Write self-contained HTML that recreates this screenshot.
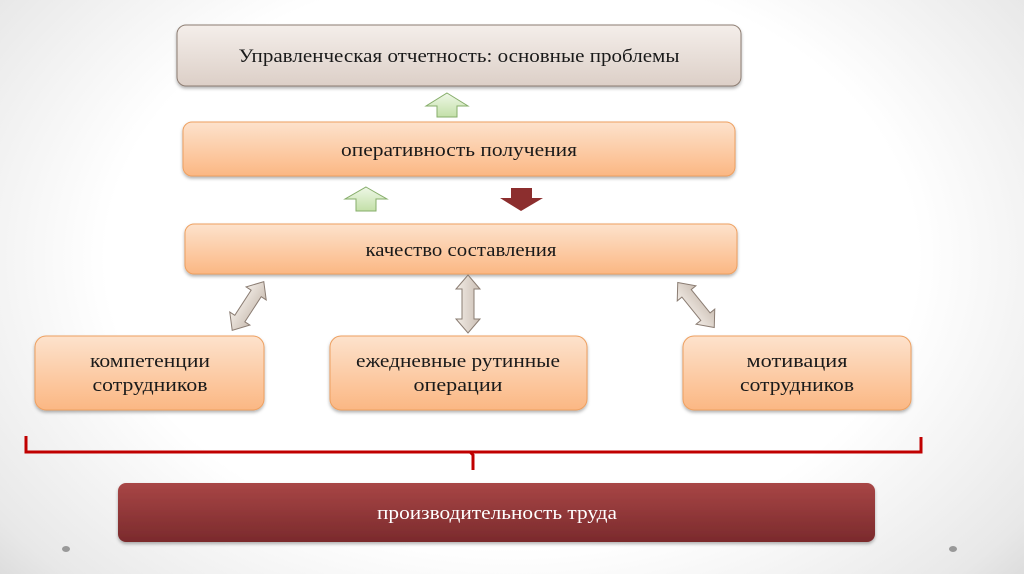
<!DOCTYPE html>
<html><head><meta charset="utf-8"><style>
html,body{margin:0;padding:0;}
body{width:1024px;height:574px;overflow:hidden;background:radial-gradient(ellipse 72% 92% at 50% 45%,#ffffff 55%,#e8e8e8 85%,#cfcfcf 100%);}
svg{position:absolute;left:0;top:0;}
text{font-family:"Liberation Serif",serif;font-size:19px;fill:#1a1a1a;text-anchor:middle;}
</style></head><body>
<svg width="1024" height="574" viewBox="0 0 1024 574">
<defs>
<linearGradient id="g1" x1="0" y1="0" x2="0" y2="1"><stop offset="0" stop-color="#f4eeea"/><stop offset="1" stop-color="#dccfc7"/></linearGradient>
<linearGradient id="or" x1="0" y1="0" x2="0" y2="1"><stop offset="0" stop-color="#fde2cc"/><stop offset="1" stop-color="#fbb783"/></linearGradient>
<linearGradient id="rd" x1="0" y1="0" x2="0" y2="1"><stop offset="0" stop-color="#a84646"/><stop offset="1" stop-color="#7a2a2c"/></linearGradient>
<linearGradient id="gr" x1="0" y1="0" x2="0" y2="1"><stop offset="0" stop-color="#eef7e6"/><stop offset="1" stop-color="#c3e0a8"/></linearGradient>
<linearGradient id="da" x1="0" y1="0" x2="1" y2="0"><stop offset="0" stop-color="#f2ece6"/><stop offset="1" stop-color="#cbbfb4"/></linearGradient>
<filter id="sh" x="-5%" y="-20%" width="110%" height="150%"><feDropShadow dx="0" dy="2" stdDeviation="1.5" flood-color="#000" flood-opacity="0.3"/></filter>
<path id="dbl" d="M0,-29 L12,-15 L6,-15 L6,15 L12,15 L0,29 L-12,15 L-6,15 L-6,-15 L-12,-15 Z"/>
</defs>
<g filter="url(#sh)">
<rect x="177" y="25" width="564" height="61" rx="9" fill="url(#g1)" stroke="#8d7d72" stroke-width="1"/>
<rect x="183" y="122" width="552" height="54" rx="9" fill="url(#or)" stroke="#eea060" stroke-width="1"/>
<rect x="185" y="224" width="552" height="50" rx="9" fill="url(#or)" stroke="#eea060" stroke-width="1"/>
<rect x="35" y="336" width="229" height="74" rx="11" fill="url(#or)" stroke="#eea060" stroke-width="1"/>
<rect x="330" y="336" width="257" height="74" rx="11" fill="url(#or)" stroke="#eea060" stroke-width="1"/>
<rect x="683" y="336" width="228" height="74" rx="11" fill="url(#or)" stroke="#eea060" stroke-width="1"/>
<rect x="118" y="483" width="757" height="59" rx="8" fill="url(#rd)"/>
</g>
<path d="M447,93 L468,106 L457,106 L457,117 L437,117 L437,106 L426,106 Z" fill="url(#gr)" stroke="#86ad6a" stroke-width="1"/>
<path d="M366,187 L387,199 L376,199 L376,211 L356,211 L356,199 L345,199 Z" fill="url(#gr)" stroke="#86ad6a" stroke-width="1"/>
<path d="M511,188 L532,188 L532,198 L543,198 L521,211 L500,198 L511,198 Z" fill="#8c2e2e"/>
<use href="#dbl" transform="translate(248,306) rotate(33)" fill="url(#da)" stroke="#8a7c72" stroke-width="1"/>
<use href="#dbl" transform="translate(468,304)" fill="url(#da)" stroke="#8a7c72" stroke-width="1"/>
<use href="#dbl" transform="translate(696,305) rotate(-39)" fill="url(#da)" stroke="#8a7c72" stroke-width="1"/>
<path d="M26,436 L26,452 L921,452 L921,437" fill="none" stroke="#c00000" stroke-width="3"/>
<path d="M470,452 L473,455 L473,470" fill="none" stroke="#c00000" stroke-width="3"/>
<ellipse cx="66" cy="549" rx="4" ry="3" fill="#999"/>
<ellipse cx="953" cy="549" rx="4" ry="3" fill="#999"/>
<text x="459" y="62" textLength="441" lengthAdjust="spacingAndGlyphs">Управленческая отчетность: основные проблемы</text>
<text x="459" y="156" textLength="236" lengthAdjust="spacingAndGlyphs">оперативность получения</text>
<text x="461" y="256" textLength="191" lengthAdjust="spacingAndGlyphs">качество составления</text>
<text x="150" y="367" textLength="120" lengthAdjust="spacingAndGlyphs">компетенции</text>
<text x="150" y="391" textLength="115" lengthAdjust="spacingAndGlyphs">сотрудников</text>
<text x="458" y="367" textLength="204" lengthAdjust="spacingAndGlyphs">ежедневные рутинные</text>
<text x="458" y="391" textLength="89" lengthAdjust="spacingAndGlyphs">операции</text>
<text x="797" y="367" textLength="101" lengthAdjust="spacingAndGlyphs">мотивация</text>
<text x="797" y="391" textLength="114" lengthAdjust="spacingAndGlyphs">сотрудников</text>
<text x="497" y="519" textLength="240" lengthAdjust="spacingAndGlyphs" style="fill:#ffffff">производительность труда</text>
</svg>
</body></html>
